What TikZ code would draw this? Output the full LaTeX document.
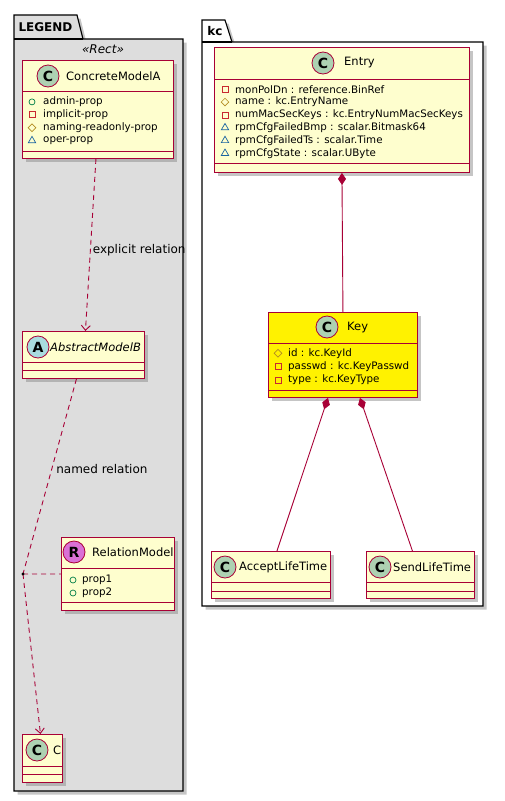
\documentclass[tikz,border=0pt]{standalone}
\usepackage{fontspec}
\setmainfont{DejaVu Sans}
\usetikzlibrary{arrows.meta, calc, shadows, shapes.geometric}
\definecolor{clsline}{HTML}{A80036}
\definecolor{clsfill}{HTML}{FEFECE}
\definecolor{spotC}{HTML}{ADD1B2}
\definecolor{spotA}{HTML}{A9DCDF}
\definecolor{spotR}{HTML}{DA70D6}
\definecolor{legendfill}{HTML}{DDDDDD}
\definecolor{pubgreen}{HTML}{038048}
\definecolor{privred}{HTML}{C82930}
\definecolor{protgold}{HTML}{B38D22}
\definecolor{pkgblue}{HTML}{1963A0}
\tikzset{
  cls/.style={rectangle, draw=clsline, line width=0.9pt, fill=clsfill,
              inner sep=0pt, anchor=north west,
              drop shadow={shadow xshift=3.5pt, shadow yshift=-3.5pt, fill=black!50, opacity=.45}},
  keycls/.style={cls, fill=yellow},
  pkgbox/.style={draw=black, line width=1.1pt,
              drop shadow={shadow xshift=3.5pt, shadow yshift=-3.5pt, fill=black!50, opacity=.45}},
  spot/.style={circle, draw=clsline, line width=0.8pt, minimum size=22pt, inner sep=0pt,
               font=\bfseries\fontsize{14}{14}\selectfont},
  cname/.style={anchor=west, inner sep=0pt, font=\fontsize{11.5}{12}\selectfont},
  attr/.style={anchor=west, inner sep=0pt, font=\fontsize{10.3}{11}\selectfont},
  pub/.style={circle, draw=pubgreen, line width=0.7pt, minimum size=6pt, inner sep=0pt},
  priv/.style={rectangle, draw=privred, line width=0.7pt, minimum size=6pt, inner sep=0pt},
  prot/.style={diamond, draw=protgold, line width=0.7pt, minimum size=8pt, inner sep=0pt},
  pkg/.style={regular polygon, regular polygon sides=3, draw=pkgblue, line width=0.7pt,
              minimum size=8.5pt, inner sep=0pt},
  sep/.style={draw=clsline, line width=0.9pt},
  dep/.style={draw=clsline, line width=0.9pt, dash pattern=on 5pt off 4pt},
  deparr/.style={dep, -{Straight Barb[length=5pt, width=9pt]}},
  compo/.style={draw=clsline, line width=0.9pt, {Diamond[length=12pt, width=8pt]}-},
  lbl/.style={anchor=west, inner sep=0pt, font=\fontsize{12}{13}\selectfont},
  tabtxt/.style={inner sep=0pt, font=\bfseries\fontsize{12}{13}\selectfont},
}
\begin{document}
\begin{tikzpicture}[x=1pt, y=-1pt]
  \useasboundingbox (0,0) rectangle (504,801);

  % packages
  \draw[pkgbox, fill=legendfill] (14,15) -- (77,15) -- (83,39) -- (183,39) -- (183,791) -- (14,791) -- cycle;
  \draw[line width=1.1pt] (14,39) -- (83,39);
  \node[tabtxt] (legendtab) at (45.5,27) {LEGEND};
  \node[font=\itshape\fontsize{12}{13}\selectfont, inner sep=0pt] (stereo) at (103,49) {«Rect»};

  \draw[pkgbox, fill=white] (202,20) -- (225,20) -- (232,42) -- (483,42) -- (483,606) -- (202,606) -- cycle;
  \draw[line width=1.1pt] (202,42) -- (232,42);
  \node[tabtxt] (kctab) at (215,31) {kc};

  % classes
  \node[cls, minimum width=151pt, minimum height=98pt] (cma) at (22,60) {};
  \node[cls, minimum width=122pt, minimum height=47pt] (amb) at (22,331) {};
  \node[cls, minimum width=113pt, minimum height=73pt] (rm) at (61,537) {};
  \node[cls, minimum width=40pt, minimum height=48pt] (c) at (22,734) {};
  \node[cls, minimum width=255pt, minimum height=125pt] (entry) at (214,47) {};
  \node[keycls, minimum width=149pt, minimum height=85pt] (key) at (268,312) {};
  \node[cls, minimum width=119pt, minimum height=47pt] (alt) at (211,551) {};
  \node[cls, minimum width=108pt, minimum height=47pt] (slt) at (366,551) {};

  \foreach \n/\a/\b in {cma/31/91, amb/31/39, rm/31/65, c/32/40,
                        entry/32/116, key/31/78, alt/31/40, slt/31/40} {
    \draw[sep] ($(\n.north west)+(0,\a)$) -- ($(\n.north east)+(0,\a)$);
    \draw[sep] ($(\n.north west)+(0,\b)$) -- ($(\n.north east)+(0,\b)$);
  }

  % headers
  \node[spot, fill=spotC] (cma-s) at (48,76) {C};
  \node[cname] (cma-t) at (66,76) {ConcreteModelA};
  \node[spot, fill=spotA] (amb-s) at (38,347) {A};
  \node[cname, font=\itshape\fontsize{11.5}{12}\selectfont] (amb-t) at (50,347) {AbstractModelB};
  \node[spot, fill=spotR] (rm-s) at (74,552) {R};
  \node[cname] (rm-t) at (92,552) {RelationModel};
  \node[spot, fill=spotC] (c-s) at (37,750) {C};
  \node[cname] (c-t) at (53,750) {C};
  \node[spot, fill=spotC] (entry-s) at (323,63) {C};
  \node[cname] (entry-t) at (344,63) {Entry};
  \node[spot, fill=spotC] (key-s) at (327,327) {C};
  \node[cname] (key-t) at (347,327) {Key};
  \node[spot, fill=spotC] (alt-s) at (225,567) {C};
  \node[cname] (alt-t) at (239,567) {AcceptLifeTime};
  \node[spot, fill=spotC] (slt-s) at (380,567) {C};
  \node[cname] (slt-t) at (393,567) {SendLifeTime};

  % attributes
  \foreach \k/\txt [count=\i] in {pub/admin-prop, priv/implicit-prop,
                                  prot/naming-readonly-prop, pkg/oper-prop} {
    \node[\k] (cma-i\i) at (32,{89+12.9*\i}) {};
    \node[attr] (cma-a\i) at (43,{89+12.9*\i}) {\txt};
  }
  \foreach \k/\txt [count=\i] in {pub/prop1, pub/prop2} {
    \node[\k] (rm-i\i) at (73,{567+13*\i}) {};
    \node[attr] (rm-a\i) at (82,{567+13*\i}) {\txt};
  }
  \foreach \k/\txt [count=\i] in {priv/{monPolDn : reference.BinRef},
                                  prot/{name : kc.EntryName},
                                  priv/{numMacSecKeys : kc.EntryNumMacSecKeys},
                                  pkg/{rpmCfgFailedBmp : scalar.Bitmask64},
                                  pkg/{rpmCfgFailedTs : scalar.Time},
                                  pkg/{rpmCfgState : scalar.UByte}} {
    \node[\k] (entry-i\i) at (225,{76.5+12.8*\i}) {};
    \node[attr] (entry-a\i) at (235,{76.5+12.8*\i}) {\txt};
  }
  \foreach \k/\txt [count=\i] in {prot/{id : kc.KeyId},
                                  priv/{passwd : kc.KeyPasswd},
                                  priv/{type : kc.KeyType}} {
    \node[\k] (key-i\i) at (278,{340+13.3*\i}) {};
    \node[attr] (key-a\i) at (288,{340+13.3*\i}) {\txt};
  }

  % relations
  \draw[deparr] ($(cma.south)+(-2,0)$) -- node[lbl, pos=0.53, xshift=2pt] (explicit) {explicit relation} ($(amb.north)+(2,0)$);
  \coordinate (relpt) at (23,574);
  \draw[dep] ($(amb.south)+(-7,0)$) -- node[lbl, pos=0.46, xshift=4pt] (named) {named relation} (relpt);
  \draw[deparr] (relpt) -- ($(c.north)+(-2,0)$);
  \draw[dep] (relpt) -- (rm.west);
  \fill (relpt) circle (1.6);

  \draw[compo] (entry.south) -- (key.north);
  \draw[compo] ($(key.south)+(-15,0)$) -- ($(alt.north)+(6,0)$);
  \draw[compo] ($(key.south)+(17,0)$) -- ($(slt.north)+(-8,0)$);
\end{tikzpicture}
\end{document}
